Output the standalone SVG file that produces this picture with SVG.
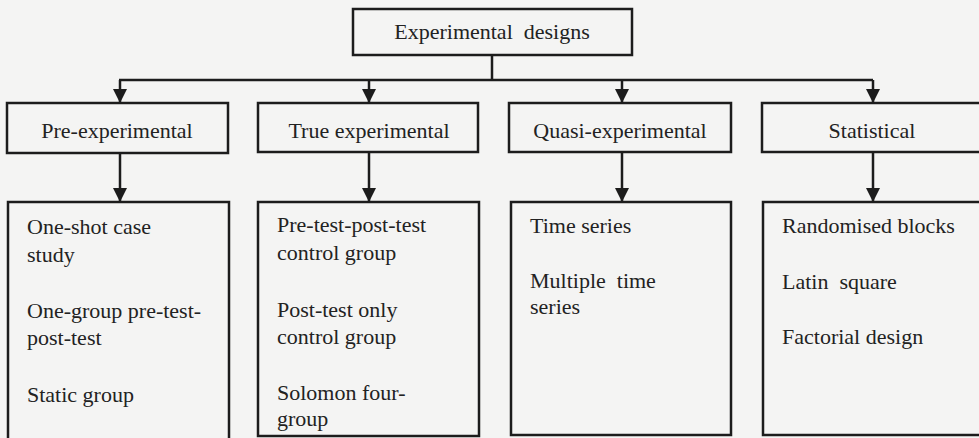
<svg xmlns="http://www.w3.org/2000/svg" width="979" height="438" viewBox="0 0 979 438">
  <style>
    .box { fill: #f4f4f3; stroke: #1c1c1c; stroke-width: 2.5; }
    .lbl { font-family: 'Liberation Serif', 'Times New Roman', Times, serif; font-size: 22px; fill: #222; }
    .mid { text-anchor: middle; }
    .wire { fill: none; stroke: #1c1c1c; stroke-width: 2.5; }
  </style>
  <defs>
    <!-- right-pointing head; orient="auto" turns it along each line -->
    <marker id="arrow" markerUnits="userSpaceOnUse" markerWidth="16" markerHeight="16" viewBox="0 0 16 16" refX="15" refY="8" orient="auto">
      <path d="M1,1 L15,8 L1,15 Z" fill="#1c1c1c"/>
    </marker>
  </defs>
  <rect width="979" height="438" fill="#f4f4f3"/>

  <g id="connectors">
    <path class="wire" d="M492,55 V80"/>
    <path class="wire" d="M119,80 H873"/>
    <path class="wire" d="M120,80 V103" marker-end="url(#arrow)"/>
    <path class="wire" d="M369,80 V103" marker-end="url(#arrow)"/>
    <path class="wire" d="M622,80 V103" marker-end="url(#arrow)"/>
    <path class="wire" d="M873,80 V103" marker-end="url(#arrow)"/>
    <path class="wire" d="M120,153 V202" marker-end="url(#arrow)"/>
    <path class="wire" d="M369,152 V202" marker-end="url(#arrow)"/>
    <path class="wire" d="M622,152 V202" marker-end="url(#arrow)"/>
    <path class="wire" d="M873,152 V202" marker-end="url(#arrow)"/>
  </g>

  <g id="root">
    <rect class="box" x="353" y="9" width="279" height="46"/>
    <text class="lbl mid" x="492" y="39" xml:space="preserve">Experimental  designs</text>
  </g>

  <g id="pre-experimental">
    <rect class="box" x="7" y="103" width="221" height="50"/>
    <text class="lbl mid" x="117" y="138">Pre-experimental</text>
  </g>
  <g id="true-experimental">
    <rect class="box" x="258" y="103" width="220" height="49"/>
    <text class="lbl mid" x="369" y="138">True experimental</text>
  </g>
  <g id="quasi-experimental">
    <rect class="box" x="509" y="103" width="222" height="49"/>
    <text class="lbl mid" x="620" y="138">Quasi-experimental</text>
  </g>
  <g id="statistical">
    <rect class="box" x="762" y="103" width="240" height="49"/>
    <text class="lbl mid" x="872" y="138">Statistical</text>
  </g>

  <g id="pre-experimental-list">
    <rect class="box" x="8" y="202" width="221" height="240"/>
    <text class="lbl" x="27" y="234">One-shot case</text>
    <text class="lbl" x="27" y="262">study</text>
    <text class="lbl" x="27" y="318">One-group pre-test-</text>
    <text class="lbl" x="27" y="345">post-test</text>
    <text class="lbl" x="27" y="402">Static group</text>
  </g>
  <g id="true-experimental-list">
    <rect class="box" x="258" y="202" width="221" height="234"/>
    <text class="lbl" x="277" y="232">Pre-test-post-test</text>
    <text class="lbl" x="277" y="260">control group</text>
    <text class="lbl" x="277" y="317">Post-test only</text>
    <text class="lbl" x="277" y="344">control group</text>
    <text class="lbl" x="277" y="400">Solomon four-</text>
    <text class="lbl" x="277" y="426">group</text>
  </g>
  <g id="quasi-experimental-list">
    <rect class="box" x="511" y="202" width="220" height="233"/>
    <text class="lbl" x="530" y="233">Time series</text>
    <text class="lbl" x="530" y="288" xml:space="preserve">Multiple  time</text>
    <text class="lbl" x="530" y="314">series</text>
  </g>
  <g id="statistical-list">
    <rect class="box" x="763" y="202" width="240" height="233"/>
    <text class="lbl" x="782" y="233">Randomised blocks</text>
    <text class="lbl" x="782" y="289" xml:space="preserve">Latin  square</text>
    <text class="lbl" x="782" y="344">Factorial design</text>
  </g>
</svg>
